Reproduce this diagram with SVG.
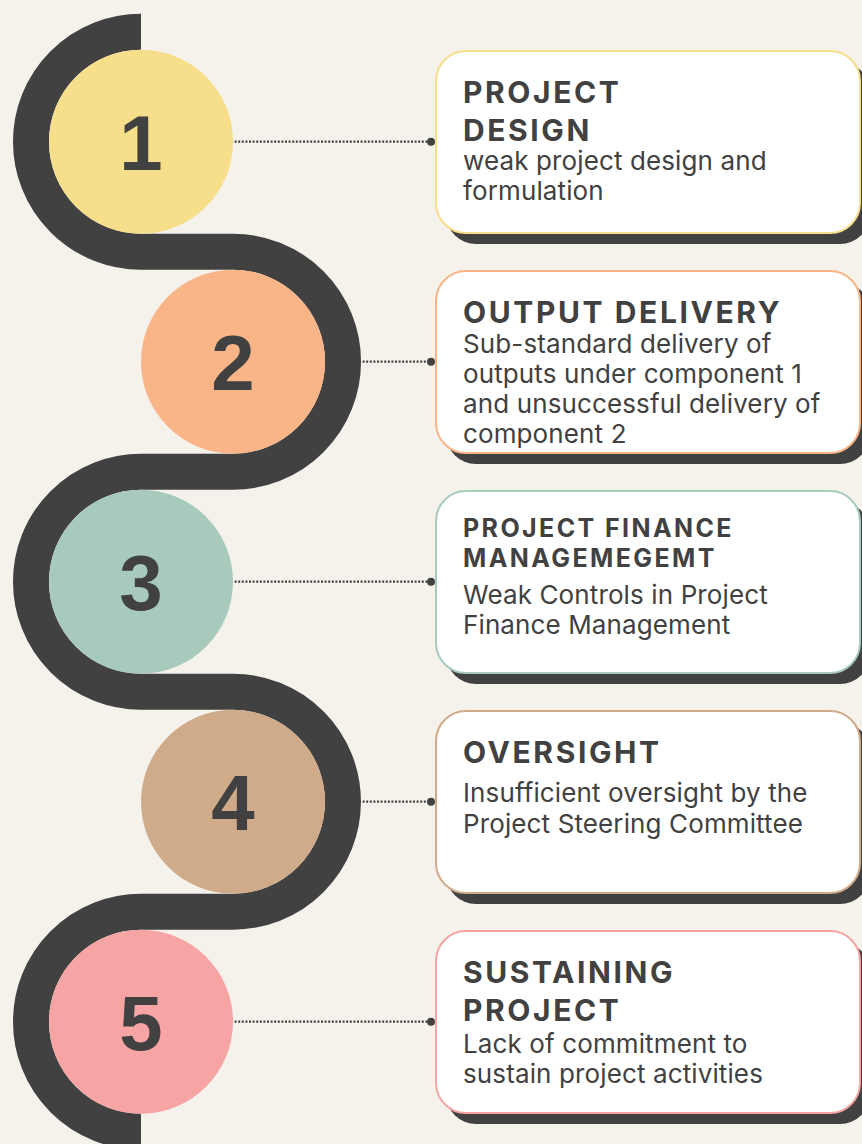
<svg xmlns="http://www.w3.org/2000/svg" width="862" height="1144" viewBox="0 0 862 1144">
  <style>
    .bg { fill: #f5f2ec; }
    .track { fill: none; stroke: #414141; stroke-width: 36; stroke-linecap: butt; }
    .link { fill: none; stroke: #414141; stroke-width: 2.2; stroke-dasharray: 2 1.6; }
    .tip { fill: #414141; }
    .num { font-family: "Liberation Sans", Arial, sans-serif; font-weight: 700; font-size: 78px; fill: #414141; text-anchor: middle; }
    .shadow { fill: #414141; }
    .card { fill: #ffffff; stroke-width: 2; }
    .title { font-family: Inter, "Liberation Sans", sans-serif; font-weight: 700; font-size: 30px; letter-spacing: 2.6px; fill: #414141; }
    .title.small { font-size: 25px; letter-spacing: 2.4px; }
    .body { font-family: Inter, "Liberation Sans", sans-serif; font-weight: 400; font-size: 26px; letter-spacing: 0.12px; fill: #414141; }
  </style>

  <rect class="bg" x="0" y="0" width="862" height="1144"/>

  <!-- dotted leaders from each step to its card -->
  <g id="connectors">
    <line class="link" x1="141" y1="141.7" x2="430" y2="141.7"/>
    <circle class="tip" cx="431" cy="141.7" r="4"/>
    <line class="link" x1="233" y1="361.7" x2="430" y2="361.7"/>
    <circle class="tip" cx="431" cy="361.7" r="4"/>
    <line class="link" x1="141" y1="581.7" x2="430" y2="581.7"/>
    <circle class="tip" cx="431" cy="581.7" r="4"/>
    <line class="link" x1="233" y1="801.7" x2="430" y2="801.7"/>
    <circle class="tip" cx="431" cy="801.7" r="4"/>
    <line class="link" x1="141" y1="1021.7" x2="430" y2="1021.7"/>
    <circle class="tip" cx="431" cy="1021.7" r="4"/>
  </g>

  <!-- winding road that wraps the numbered steps -->
  <path id="road" class="track" d="M141,31.7 A110,110 0 0 0 141,251.7 L233,251.7 A110,110 0 0 1 233,471.7 L141,471.7 A110,110 0 0 0 141,691.7 L233,691.7 A110,110 0 0 1 233,911.7 L141,911.7 A110,110 0 0 0 141,1131.7"/>

  <g id="step1">
    <circle cx="141" cy="141.7" r="92" fill="#f7de8b"/>
    <text class="num" x="141" y="169.5">1</text>
  </g>
  <g id="step2">
    <circle cx="233" cy="361.7" r="92" fill="#f9b487"/>
    <text class="num" x="233" y="389.5">2</text>
  </g>
  <g id="step3">
    <circle cx="141" cy="581.7" r="92" fill="#a8cabd"/>
    <text class="num" x="141" y="609.5">3</text>
  </g>
  <g id="step4">
    <circle cx="233" cy="801.7" r="92" fill="#cfab8a"/>
    <text class="num" x="233" y="829.5">4</text>
  </g>
  <g id="step5">
    <circle cx="141" cy="1021.7" r="92" fill="#f7a4a4"/>
    <text class="num" x="141" y="1049.5">5</text>
  </g>

  <g id="card1">
    <rect class="shadow" x="446" y="62" width="424" height="182" rx="30"/>
    <rect class="card" x="436" y="51" width="424" height="182" rx="30" stroke="#f7de8b"/>
    <text class="title" x="463" y="103">PROJECT</text>
    <text class="title" x="463" y="141">DESIGN</text>
    <text class="body" x="463" y="170">weak project design and</text>
    <text class="body" x="463" y="200">formulation</text>
  </g>

  <g id="card2">
    <rect class="shadow" x="446" y="282" width="424" height="182" rx="30"/>
    <rect class="card" x="436" y="271" width="424" height="182" rx="30" stroke="#f9b487"/>
    <text class="title" x="463" y="323">OUTPUT DELIVERY</text>
    <text class="body" x="463" y="353">Sub-standard delivery of</text>
    <text class="body" x="463" y="383">outputs under component 1</text>
    <text class="body" x="463" y="413">and unsuccessful delivery of</text>
    <text class="body" x="463" y="443">component 2</text>
  </g>

  <g id="card3">
    <rect class="shadow" x="446" y="502" width="424" height="182" rx="30"/>
    <rect class="card" x="436" y="491" width="424" height="182" rx="30" stroke="#a8cabd"/>
    <text class="title small" x="463" y="537">PROJECT FINANCE</text>
    <text class="title small" x="463" y="567">MANAGEMEGEMT</text>
    <text class="body" x="463" y="604">Weak Controls in Project</text>
    <text class="body" x="463" y="634">Finance Management</text>
  </g>

  <g id="card4">
    <rect class="shadow" x="446" y="722" width="424" height="182" rx="30"/>
    <rect class="card" x="436" y="711" width="424" height="182" rx="30" stroke="#cfab8a"/>
    <text class="title" x="463" y="763">OVERSIGHT</text>
    <text class="body" x="463" y="802">Insufficient oversight by the</text>
    <text class="body" x="463" y="833">Project Steering Committee</text>
  </g>

  <g id="card5">
    <rect class="shadow" x="446" y="942" width="424" height="182" rx="30"/>
    <rect class="card" x="436" y="931" width="424" height="182" rx="30" stroke="#f7a4a4"/>
    <text class="title" x="463" y="983">SUSTAINING</text>
    <text class="title" x="463" y="1021">PROJECT</text>
    <text class="body" x="463" y="1053">Lack of commitment to</text>
    <text class="body" x="463" y="1083">sustain project activities</text>
  </g>
</svg>
